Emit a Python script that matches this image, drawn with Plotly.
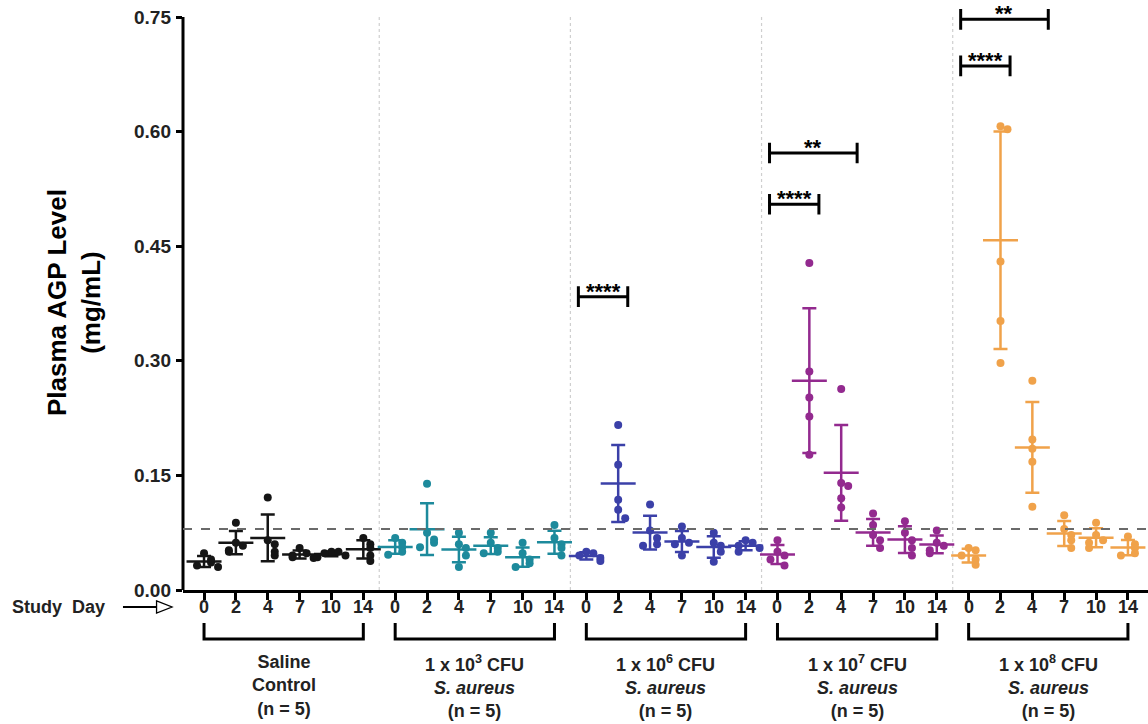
import numpy as np
import plotly.graph_objects as go

# ---------------- data ----------------
days = [0, 2, 4, 7, 10, 14]
day_labels = ["0", "2", "4", "7", "10", "14"]

group_labels = [
    "Saline<br>Control<br>(n = 5)",
    "1 x 10<sup>3</sup> CFU<br><i>S. aureus</i><br>(n = 5)",
    "1 x 10<sup>6</sup> CFU<br><i>S. aureus</i><br>(n = 5)",
    "1 x 10<sup>7</sup> CFU<br><i>S. aureus</i><br>(n = 5)",
    "1 x 10<sup>8</sup> CFU<br><i>S. aureus</i><br>(n = 5)",
]
group_colors = ["#151515", "#1d8a9c", "#3b40a8", "#932a8f", "#f0a24a"]

saline = [[0.048, 0.040, 0.036, 0.032, 0.030],
          [0.088, 0.062, 0.058, 0.052, 0.050],
          [0.121, 0.065, 0.060, 0.050, 0.045],
          [0.055, 0.048, 0.045, 0.043, 0.042],
          [0.050, 0.050, 0.048, 0.045, 0.043],
          [0.068, 0.060, 0.055, 0.045, 0.038]]
cfu_1e3 = [[0.068, 0.062, 0.056, 0.050, 0.046],
           [0.139, 0.075, 0.066, 0.062, 0.056],
           [0.075, 0.060, 0.055, 0.045, 0.030],
           [0.075, 0.062, 0.055, 0.050, 0.048],
           [0.062, 0.048, 0.040, 0.035, 0.030],
           [0.085, 0.068, 0.060, 0.055, 0.045]]
cfu_1e6 = [[0.050, 0.048, 0.045, 0.042, 0.038],
           [0.216, 0.164, 0.118, 0.105, 0.094],
           [0.112, 0.078, 0.068, 0.060, 0.058],
           [0.083, 0.068, 0.062, 0.060, 0.045],
           [0.075, 0.062, 0.058, 0.050, 0.037],
           [0.065, 0.062, 0.058, 0.055, 0.050]]
cfu_1e7 = [[0.065, 0.050, 0.045, 0.040, 0.032],
           [0.428, 0.286, 0.252, 0.227, 0.177],
           [0.263, 0.140, 0.136, 0.120, 0.108],
           [0.100, 0.085, 0.072, 0.065, 0.055],
           [0.090, 0.075, 0.065, 0.055, 0.045],
           [0.078, 0.062, 0.058, 0.052, 0.048]]
cfu_1e8 = [[0.055, 0.052, 0.045, 0.040, 0.033],
           [0.607, 0.603, 0.430, 0.352, 0.297],
           [0.274, 0.197, 0.185, 0.168, 0.109],
           [0.098, 0.080, 0.072, 0.065, 0.055],
           [0.088, 0.072, 0.065, 0.062, 0.055],
           [0.070, 0.060, 0.055, 0.048, 0.045]]
groups = [saline, cfu_1e3, cfu_1e6, cfu_1e7, cfu_1e8]

reference_level = 0.08

# significance: (group index, from day index, to day index, y level, label)
sig_group = [2, 3, 3, 4, 4]
sig_from = [0, 0, 0, 0, 0]
sig_to = [1, 1, 2, 1, 2]
sig_y = [0.384, 0.505, 0.572, 0.686, 0.747]
sig_label = ["****", "****", "**", "****", "**"]

y_ticks = [0.00, 0.15, 0.30, 0.45, 0.60, 0.75]

# ---------------- figure ----------------
FONT = "Liberation Sans"
n_days = len(days)
fig = go.Figure()


def jitter(vals, tol=0.011, step=0.22):
    placed, offs = [], []
    for v in vals:
        n = sum(1 for p in placed if abs(p - v) < tol)
        if n == 0:
            o = 0.0
        else:
            o = (1 if n % 2 else -1) * step * ((n + 1) // 2)
        placed.append(v)
        offs.append(o)
    return offs


for g, data in enumerate(groups):
    col = group_colors[g]
    xs_pts, ys_pts, xm, ym, sd = [], [], [], [], []
    for d, vals in enumerate(data):
        pos = g * n_days + d
        offs = jitter(vals)
        for v, o in zip(vals, offs):
            xs_pts.append(pos + o)
            ys_pts.append(v)
        xm.append(pos)
        ym.append(float(np.mean(vals)))
        sd.append(float(np.std(vals, ddof=1)))
    fig.add_trace(go.Scatter(
        x=xm, y=ym, mode="markers",
        marker=dict(symbol="line-ew", size=25, color=col,
                    line=dict(width=2.5, color=col)),
        error_y=dict(type="data", array=sd, visible=True,
                     color=col, thickness=2.5, width=7),
        showlegend=False, hoverinfo="skip"))
    fig.add_trace(go.Scatter(
        x=xs_pts, y=ys_pts, mode="markers",
        marker=dict(symbol="circle", size=8, color=col),
        showlegend=False))

shapes = []
ann = []
# y axis line (drawn only up to top tick)
shapes.append(dict(type="line", xref="paper", yref="y", x0=0, x1=0,
                   y0=0, y1=y_ticks[-1], line=dict(color="black", width=3)))
# group separators
for g in range(1, len(groups)):
    xs = g * n_days - 0.5
    shapes.append(dict(type="line", xref="x", yref="y", x0=xs, x1=xs,
                       y0=0, y1=y_ticks[-1],
                       line=dict(color="#cfcfcf", width=1.2, dash="dot"),
                       layer="below"))
# dashed reference line
shapes.append(dict(type="line", xref="paper", yref="y", x0=0, x1=1,
                   y0=reference_level, y1=reference_level,
                   line=dict(color="#6a6a6a", width=2, dash="dash")))
# significance brackets
tick_h = 0.0135
for gi, a, b, yv, lab in zip(sig_group, sig_from, sig_to, sig_y, sig_label):
    xa = gi * n_days + a - 0.25
    xb = gi * n_days + b + (0.3 if b - a == 1 else 0.5)
    shapes.append(dict(type="path", xref="x", yref="y",
                       path=f"M {xa},{yv - tick_h} L {xa},{yv + tick_h} M {xa},{yv} L {xb},{yv} "
                            f"M {xb},{yv - tick_h} L {xb},{yv + tick_h}",
                       line=dict(color="black", width=3)))
    ann.append(dict(x=(xa + xb) / 2, y=yv, xref="x", yref="y", text=lab,
                    showarrow=False, yanchor="top", yshift=20,
                    font=dict(family=FONT, size=22, color="black", weight="bold")))

# y tick labels
for t in y_ticks:
    ann.append(dict(x=0, y=t, xref="paper", yref="y", text=f"{t:.2f}",
                    showarrow=False, xanchor="right", yanchor="middle", xshift=-10,
                    font=dict(family=FONT, size=19, color="#222", weight="bold")))

# x tick labels (study days)
for g in range(len(groups)):
    for d in range(n_days):
        ann.append(dict(x=g * n_days + d, y=-0.0288, xref="x", yref="paper",
                        text=day_labels[d], showarrow=False,
                        xanchor="center", yanchor="middle",
                        font=dict(family=FONT, size=18, color="#222", weight="bold")))

# group brackets below the axis
br_top, br_bot = -0.0559, -0.0831
for g in range(len(groups)):
    x0 = g * n_days
    x1 = g * n_days + n_days - 1
    shapes.append(dict(type="path", xref="x", yref="paper",
                       path=f"M {x0},{br_top} L {x0},{br_bot} L {x1},{br_bot} L {x1},{br_top}",
                       line=dict(color="black", width=3)))
    ann.append(dict(x=(x0 + x1) / 2, y=-0.1017, xref="x", yref="paper",
                    text=group_labels[g], showarrow=False, yanchor="top",
                    align="center",
                    font=dict(family=FONT, size=18, color="#222", weight="bold")))

# Study Day arrow
ann.append(dict(x=-0.1793, y=-0.0288, xref="paper", yref="paper",
                text="Study  Day", showarrow=False, xanchor="left", yanchor="middle",
                font=dict(family=FONT, size=18, color="#222", weight="bold")))
shapes.append(dict(type="line", xref="paper", yref="paper",
                   x0=-0.0622, x1=-0.0269, y0=-0.0288, y1=-0.0288,
                   line=dict(color="black", width=2)))
shapes.append(dict(type="path", xref="paper", yref="paper",
                   path="M -0.0274,-0.0186 L -0.0114,-0.0288 L -0.0274,-0.0390 Z",
                   fillcolor="white", line=dict(color="black", width=1.3)))

# y-axis title
ann.append(dict(x=-0.113, y=0.488, xref="paper", yref="paper",
                text="Plasma AGP Level<br>(mg/mL)", showarrow=False,
                textangle=-90, xanchor="center", yanchor="middle",
                font=dict(family=FONT, size=26, color="black", weight="bold")))

fig.update_layout(
    width=1148, height=724,
    margin=dict(l=183, r=0, t=0, b=134),
    paper_bgcolor="white", plot_bgcolor="white",
    font=dict(family=FONT, color="black"),
    shapes=shapes, annotations=ann,
    showlegend=False,
    xaxis=dict(range=[-0.66, 29.63], tickmode="array",
               tickvals=[g * n_days + d for g in range(len(groups)) for d in range(n_days)],
               showticklabels=False, showgrid=False, zeroline=False,
               showline=True, linecolor="black", linewidth=3,
               ticks="outside", ticklen=7, tickwidth=2.5, tickcolor="black"),
    yaxis=dict(range=[0, 0.7723], tickmode="array", tickvals=y_ticks,
               showticklabels=False,
               showgrid=False, zeroline=False, showline=False,
               ticks="outside", ticklen=6, tickwidth=2.5, tickcolor="black"),
)

fig.write_html("out.html", config={"displayModeBar": False},
               post_script="document.body.style.margin='0px';document.body.style.overflow='hidden';")
